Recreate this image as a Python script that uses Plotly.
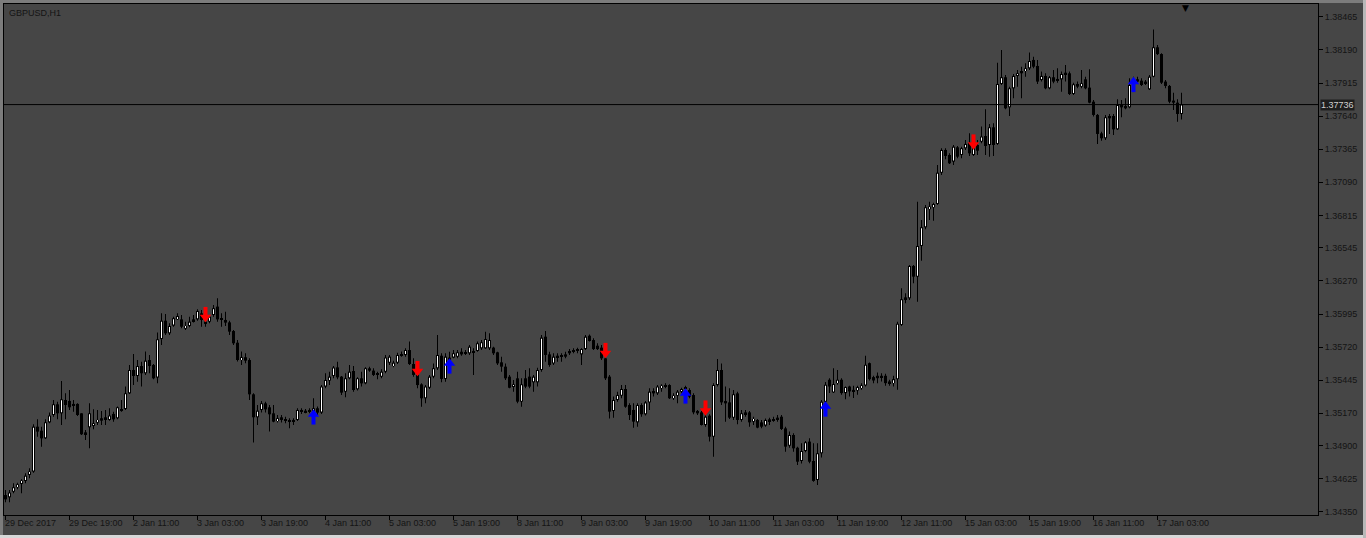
import plotly.graph_objects as go

symbol_label = "GBPUSD,H1"

opens = [
    1.34491, 1.34472, 1.34519, 1.34555, 1.34583, 1.34608, 1.34658, 1.34686, 1.35059, 1.35026,
    1.34962, 1.35095, 1.35156, 1.35245, 1.35170, 1.35281, 1.35273, 1.35231, 1.35248, 1.35170,
    1.34996, 1.35054, 1.35065, 1.35093, 1.35129, 1.35137, 1.35115, 1.35165, 1.35129, 1.35189,
    1.35206, 1.35336, 1.35530, 1.35480, 1.35563, 1.35503, 1.35613, 1.35572, 1.35467, 1.35788,
    1.35940, 1.35835, 1.35899, 1.35951, 1.35951, 1.35874, 1.35896, 1.35935, 1.35951, 1.36001,
    1.35913, 1.35932, 1.35987, 1.36057, 1.35960, 1.35946, 1.35926, 1.35854, 1.35757, 1.35613,
    1.35636, 1.35613, 1.35328, 1.35137, 1.35198, 1.35253, 1.35220, 1.35170, 1.35106, 1.35137,
    1.35123, 1.35115, 1.35106, 1.35115, 1.35198, 1.35178, 1.35198, 1.35184, 1.35212, 1.35176,
    1.35392, 1.35442, 1.35481, 1.35552, 1.35475, 1.35350, 1.35461, 1.35522, 1.35370, 1.35461,
    1.35419, 1.35525, 1.35525, 1.35503, 1.35475, 1.35516, 1.35591, 1.35563, 1.35591, 1.35650,
    1.35655, 1.35696, 1.35580, 1.35489, 1.35411, 1.35295, 1.35383, 1.35475, 1.35544, 1.35649,
    1.35456, 1.35613, 1.35633, 1.35641, 1.35682, 1.35677, 1.35669, 1.35688, 1.35688, 1.35710,
    1.35710, 1.35710, 1.35716, 1.35677, 1.35594, 1.35558, 1.35475, 1.35389, 1.35461, 1.35267,
    1.35461, 1.35475, 1.35428, 1.35428, 1.35530, 1.35807, 1.35660, 1.35585, 1.35633, 1.35649,
    1.35641, 1.35669, 1.35682, 1.35688, 1.35660, 1.35704, 1.35815, 1.35779, 1.35732, 1.35716,
    1.35627, 1.35475, 1.35190, 1.35281, 1.35317, 1.35372, 1.35239, 1.35198, 1.35095, 1.35239,
    1.35162, 1.35261, 1.35356, 1.35336, 1.35378, 1.35405, 1.35405, 1.35295, 1.35317, 1.35350,
    1.35378, 1.35364, 1.35322, 1.35190, 1.35178, 1.35073, 1.35151, 1.34976, 1.35405, 1.35530,
    1.35272, 1.35261, 1.35134, 1.35336, 1.35115, 1.35162, 1.35178, 1.35101, 1.35115, 1.35095,
    1.35068, 1.35120, 1.35106, 1.35120, 1.35142, 1.35045, 1.34901, 1.34990, 1.34884, 1.34774,
    1.34857, 1.34935, 1.34774, 1.34616, 1.34838, 1.35267, 1.35449, 1.35344, 1.35421, 1.35449,
    1.35338, 1.35393, 1.35352, 1.35360, 1.35379, 1.35402, 1.35587, 1.35471, 1.35462, 1.35482,
    1.35482, 1.35435, 1.35421, 1.35454, 1.35905, 1.36118, 1.36126, 1.36395, 1.36306, 1.36561,
    1.36716, 1.36866, 1.36882, 1.36910, 1.37170, 1.37359, 1.37317, 1.37262, 1.37381, 1.37317,
    1.37373, 1.37420, 1.37317, 1.37400, 1.37428, 1.37475, 1.37400, 1.37547, 1.37409, 1.37907,
    1.37963, 1.37713, 1.37871, 1.37974, 1.37996, 1.38015, 1.38037, 1.38107, 1.38057, 1.37940,
    1.37974, 1.37871, 1.37963, 1.37949, 1.37946, 1.38001, 1.37996, 1.37824, 1.37907, 1.37885,
    1.37946, 1.37877, 1.37760, 1.37650, 1.37497, 1.37456, 1.37622, 1.37641, 1.37530, 1.37713,
    1.37724, 1.37713, 1.37918, 1.37927, 1.37935, 1.37927, 1.37863, 1.37968, 1.38212, 1.38156,
    1.37927, 1.37891, 1.37769, 1.37752, 1.37658,
]

highs = [
    1.34533, 1.34533, 1.34589, 1.34594, 1.34622, 1.34672, 1.34713, 1.35079, 1.35120, 1.35059,
    1.35120, 1.35176, 1.35281, 1.35267, 1.35439, 1.35336, 1.35364, 1.35281, 1.35253, 1.35170,
    1.35032, 1.35253, 1.35203, 1.35198, 1.35189, 1.35198, 1.35212, 1.35184, 1.35226, 1.35281,
    1.35392, 1.35572, 1.35663, 1.35613, 1.35599, 1.35683, 1.35655, 1.35580, 1.35841, 1.36001,
    1.35996, 1.35918, 1.35973, 1.36001, 1.35987, 1.35932, 1.35973, 1.35987, 1.36034, 1.36029,
    1.35960, 1.35987, 1.36070, 1.36126, 1.36001, 1.36015, 1.35940, 1.35863, 1.35780, 1.35683,
    1.35669, 1.35627, 1.35336, 1.35239, 1.35273, 1.35267, 1.35239, 1.35239, 1.35156, 1.35156,
    1.35142, 1.35129, 1.35129, 1.35212, 1.35212, 1.35206, 1.35212, 1.35295, 1.35226, 1.35406,
    1.35503, 1.35516, 1.35563, 1.35599, 1.35480, 1.35503, 1.35572, 1.35563, 1.35469, 1.35516,
    1.35552, 1.35558, 1.35544, 1.35516, 1.35536, 1.35655, 1.35655, 1.35608, 1.35674, 1.35683,
    1.35710, 1.35766, 1.35627, 1.35494, 1.35419, 1.35405, 1.35489, 1.35585, 1.35821, 1.35669,
    1.35669, 1.35682, 1.35696, 1.35696, 1.35710, 1.35696, 1.35738, 1.35710, 1.35766, 1.35779,
    1.35849, 1.35835, 1.35724, 1.35682, 1.35641, 1.35585, 1.35489, 1.35447, 1.35516, 1.35461,
    1.35530, 1.35544, 1.35489, 1.35549, 1.35821, 1.35854, 1.35682, 1.35669, 1.35669, 1.35669,
    1.35682, 1.35704, 1.35710, 1.35716, 1.35710, 1.35821, 1.35826, 1.35793, 1.35752, 1.35738,
    1.35641, 1.35489, 1.35309, 1.35350, 1.35405, 1.35405, 1.35253, 1.35253, 1.35253, 1.35253,
    1.35273, 1.35378, 1.35378, 1.35405, 1.35411, 1.35419, 1.35411, 1.35336, 1.35364, 1.35383,
    1.35400, 1.35378, 1.35336, 1.35198, 1.35190, 1.35156, 1.35162, 1.35419, 1.35621, 1.35585,
    1.35392, 1.35378, 1.35364, 1.35350, 1.35198, 1.35198, 1.35190, 1.35142, 1.35123, 1.35115,
    1.35128, 1.35134, 1.35142, 1.35156, 1.35156, 1.35059, 1.35018, 1.35004, 1.34893, 1.34921,
    1.34940, 1.34962, 1.34921, 1.34921, 1.35281, 1.35430, 1.35462, 1.35545, 1.35531, 1.35462,
    1.35393, 1.35399, 1.35399, 1.35399, 1.35421, 1.35648, 1.35592, 1.35482, 1.35509, 1.35504,
    1.35498, 1.35449, 1.35482, 1.35932, 1.36209, 1.36168, 1.36403, 1.36403, 1.36929, 1.36777,
    1.36902, 1.36929, 1.36921, 1.37234, 1.37373, 1.37373, 1.37331, 1.37400, 1.37392, 1.37386,
    1.37442, 1.37497, 1.37386, 1.37442, 1.37553, 1.37697, 1.37575, 1.37580, 1.38084, 1.38190,
    1.37982, 1.37885, 1.37990, 1.38024, 1.38051, 1.38079, 1.38168, 1.38134, 1.38107, 1.38010,
    1.37996, 1.37974, 1.38024, 1.38037, 1.38010, 1.38065, 1.38010, 1.37918, 1.37927, 1.38024,
    1.37968, 1.38029, 1.37774, 1.37658, 1.37511, 1.37650, 1.37658, 1.37658, 1.37780, 1.37774,
    1.37788, 1.37954, 1.37968, 1.37968, 1.37954, 1.37940, 1.37982, 1.38361, 1.38231, 1.38162,
    1.37940, 1.37899, 1.37835, 1.37780, 1.37835,
]

lows = [
    1.34431, 1.34431, 1.34505, 1.34539, 1.34505, 1.34589, 1.34630, 1.34677, 1.34976, 1.34893,
    1.34957, 1.35087, 1.35142, 1.35120, 1.35073, 1.35120, 1.35198, 1.35184, 1.35148, 1.34990,
    1.34949, 1.34879, 1.35037, 1.35073, 1.35073, 1.35073, 1.35109, 1.35101, 1.35120, 1.35184,
    1.35198, 1.35331, 1.35406, 1.35433, 1.35392, 1.35489, 1.35503, 1.35453, 1.35419, 1.35738,
    1.35821, 1.35821, 1.35890, 1.35946, 1.35877, 1.35863, 1.35885, 1.35924, 1.35940, 1.35890,
    1.35890, 1.35918, 1.35973, 1.35932, 1.35890, 1.35896, 1.35821, 1.35738, 1.35600, 1.35572,
    1.35586, 1.35281, 1.34927, 1.35073, 1.35176, 1.35176, 1.35018, 1.35095, 1.35093, 1.35093,
    1.35087, 1.35046, 1.35073, 1.35106, 1.35165, 1.35170, 1.35170, 1.35170, 1.35156, 1.35165,
    1.35378, 1.35406, 1.35461, 1.35453, 1.35322, 1.35303, 1.35453, 1.35350, 1.35359, 1.35392,
    1.35411, 1.35516, 1.35480, 1.35453, 1.35461, 1.35503, 1.35572, 1.35552, 1.35580, 1.35641,
    1.35641, 1.35572, 1.35475, 1.35378, 1.35225, 1.35253, 1.35372, 1.35461, 1.35530, 1.35428,
    1.35433, 1.35599, 1.35627, 1.35627, 1.35649, 1.35655, 1.35655, 1.35489, 1.35682, 1.35696,
    1.35704, 1.35696, 1.35655, 1.35572, 1.35516, 1.35447, 1.35378, 1.35350, 1.35253, 1.35225,
    1.35378, 1.35378, 1.35350, 1.35392, 1.35516, 1.35599, 1.35558, 1.35572, 1.35599, 1.35599,
    1.35627, 1.35655, 1.35669, 1.35669, 1.35572, 1.35696, 1.35766, 1.35696, 1.35696, 1.35613,
    1.35447, 1.35128, 1.35134, 1.35267, 1.35295, 1.35217, 1.35115, 1.35051, 1.35059, 1.35142,
    1.35151, 1.35198, 1.35309, 1.35322, 1.35350, 1.35378, 1.35289, 1.35281, 1.35253, 1.35336,
    1.35372, 1.35295, 1.35162, 1.35156, 1.35068, 1.35059, 1.34935, 1.34810, 1.35392, 1.35239,
    1.35101, 1.35123, 1.35115, 1.35079, 1.35101, 1.35142, 1.35059, 1.35073, 1.35045, 1.35045,
    1.35059, 1.35073, 1.35101, 1.35101, 1.35031, 1.34851, 1.34884, 1.34851, 1.34741, 1.34754,
    1.34846, 1.34755, 1.34602, 1.34574, 1.34803, 1.35253, 1.35338, 1.35338, 1.35407, 1.35324,
    1.35288, 1.35310, 1.35297, 1.35324, 1.35365, 1.35393, 1.35443, 1.35421, 1.35421, 1.35435,
    1.35399, 1.35399, 1.35393, 1.35365, 1.35896, 1.36085, 1.36112, 1.36251, 1.36098, 1.36439,
    1.36699, 1.36777, 1.36771, 1.36902, 1.37151, 1.37281, 1.37242, 1.37234, 1.37289, 1.37289,
    1.37359, 1.37309, 1.37309, 1.37317, 1.37414, 1.37317, 1.37303, 1.37309, 1.37400, 1.37899,
    1.37697, 1.37641, 1.37788, 1.37885, 1.37788, 1.37968, 1.38024, 1.38037, 1.37907, 1.37927,
    1.37863, 1.37863, 1.37913, 1.37918, 1.37843, 1.37927, 1.37816, 1.37816, 1.37871, 1.37871,
    1.37863, 1.37747, 1.37636, 1.37409, 1.37436, 1.37442, 1.37492, 1.37483, 1.37525, 1.37630,
    1.37697, 1.37705, 1.37913, 1.37913, 1.37891, 1.37899, 1.37857, 1.37963, 1.38148, 1.37907,
    1.37871, 1.37747, 1.37691, 1.37594, 1.37613,
]

closes = [
    1.34455, 1.34511, 1.34555, 1.34580, 1.34611, 1.34652, 1.34686, 1.35059, 1.35018, 1.34962,
    1.35095, 1.35151, 1.35245, 1.35170, 1.35286, 1.35239, 1.35220, 1.35248, 1.35156, 1.34996,
    1.35012, 1.35170, 1.35087, 1.35115, 1.35109, 1.35115, 1.35151, 1.35120, 1.35220, 1.35206,
    1.35336, 1.35530, 1.35480, 1.35563, 1.35503, 1.35608, 1.35563, 1.35461, 1.35785, 1.35940,
    1.35835, 1.35896, 1.35960, 1.35979, 1.35890, 1.35896, 1.35932, 1.35951, 1.36020, 1.35946,
    1.35932, 1.35973, 1.36043, 1.35951, 1.35946, 1.35924, 1.35849, 1.35752, 1.35613, 1.35636,
    1.35608, 1.35328, 1.35137, 1.35192, 1.35253, 1.35203, 1.35162, 1.35101, 1.35129, 1.35115,
    1.35106, 1.35106, 1.35115, 1.35198, 1.35184, 1.35192, 1.35184, 1.35212, 1.35176, 1.35392,
    1.35447, 1.35475, 1.35550, 1.35469, 1.35342, 1.35461, 1.35516, 1.35364, 1.35461, 1.35419,
    1.35544, 1.35544, 1.35489, 1.35489, 1.35516, 1.35633, 1.35641, 1.35591, 1.35655, 1.35663,
    1.35696, 1.35580, 1.35489, 1.35405, 1.35295, 1.35392, 1.35475, 1.35544, 1.35655, 1.35456,
    1.35641, 1.35633, 1.35669, 1.35677, 1.35660, 1.35666, 1.35724, 1.35677, 1.35752, 1.35760,
    1.35787, 1.35779, 1.35669, 1.35585, 1.35558, 1.35461, 1.35383, 1.35411, 1.35267, 1.35411,
    1.35392, 1.35392, 1.35475, 1.35530, 1.35799, 1.35655, 1.35572, 1.35641, 1.35649, 1.35641,
    1.35660, 1.35688, 1.35696, 1.35704, 1.35704, 1.35807, 1.35771, 1.35704, 1.35704, 1.35627,
    1.35461, 1.35184, 1.35281, 1.35322, 1.35372, 1.35225, 1.35156, 1.35101, 1.35239, 1.35162,
    1.35261, 1.35350, 1.35336, 1.35392, 1.35400, 1.35392, 1.35295, 1.35317, 1.35350, 1.35372,
    1.35389, 1.35309, 1.35178, 1.35170, 1.35073, 1.35142, 1.34976, 1.35405, 1.35530, 1.35261,
    1.35253, 1.35134, 1.35328, 1.35115, 1.35170, 1.35178, 1.35095, 1.35123, 1.35051, 1.35059,
    1.35115, 1.35106, 1.35123, 1.35134, 1.35040, 1.34893, 1.34990, 1.34879, 1.34768, 1.34857,
    1.34929, 1.34768, 1.34608, 1.34838, 1.35267, 1.35407, 1.35393, 1.35413, 1.35449, 1.35338,
    1.35388, 1.35352, 1.35365, 1.35388, 1.35402, 1.35573, 1.35454, 1.35443, 1.35482, 1.35468,
    1.35421, 1.35421, 1.35454, 1.35914, 1.36118, 1.36134, 1.36395, 1.36306, 1.36561, 1.36716,
    1.36882, 1.36888, 1.36910, 1.37170, 1.37359, 1.37309, 1.37248, 1.37386, 1.37303, 1.37373,
    1.37409, 1.37331, 1.37373, 1.37353, 1.37470, 1.37392, 1.37547, 1.37400, 1.37907, 1.37963,
    1.37705, 1.37871, 1.37974, 1.37996, 1.38015, 1.38037, 1.38098, 1.38051, 1.37927, 1.37974,
    1.37871, 1.37963, 1.37927, 1.37932, 1.37990, 1.37990, 1.37824, 1.37904, 1.37885, 1.37913,
    1.37871, 1.37752, 1.37650, 1.37492, 1.37456, 1.37630, 1.37641, 1.37530, 1.37733, 1.37733,
    1.37705, 1.37899, 1.37935, 1.37946, 1.37899, 1.37913, 1.37968, 1.38212, 1.38156, 1.37918,
    1.37891, 1.37760, 1.37752, 1.37658, 1.37736,
]

bars = list(range(len(opens)))

time_tick_bars = list(range(0, 289, 16))
time_tick_labels = [
    "29 Dec 2017", "29 Dec 19:00", "2 Jan 11:00", "3 Jan 03:00", "3 Jan 19:00",
    "4 Jan 11:00", "5 Jan 03:00", "5 Jan 19:00", "8 Jan 11:00", "9 Jan 03:00",
    "9 Jan 19:00", "10 Jan 11:00", "11 Jan 03:00", "11 Jan 19:00", "12 Jan 11:00",
    "15 Jan 03:00", "15 Jan 19:00", "16 Jan 11:00", "17 Jan 03:00",
]

price_ticks = [1.38465, 1.38190, 1.37915, 1.37640, 1.37365, 1.37090, 1.36815, 1.36545,
               1.36270, 1.35995, 1.35720, 1.35445, 1.35170, 1.34900, 1.34625, 1.34350]
price_tick_labels = ["%.5f" % p for p in price_ticks]

sell_bars = [50, 103, 150, 175, 242]
sell_prices = [1.35987, 1.35538, 1.35688, 1.35210, 1.37421]
buy_bars = [77, 111, 170, 205, 282]
buy_prices = [1.35144, 1.35567, 1.35318, 1.35210, 1.37907]

last_price = 1.37736

BG = "#464646"
FONT = "Tahoma, Liberation Sans, Arial, sans-serif"
TXT = "#141414"

W, H = 1366, 538
ML, MR, MT, MB = 4, 48, 4, 23
PW, PH = W - ML - MR, H - MT - MB
Y_RANGE = [1.34325, 1.38572]
X_RANGE = [-0.375, 328.125]
dp = (Y_RANGE[1] - Y_RANGE[0]) / PH   # price per pixel

fig = go.Figure()

# wicks (high-low), drawn as thin bars so that bodies are layered above them
fig.add_trace(go.Bar(
    x=bars, y=[h - l for h, l in zip(highs, lows)], base=lows, width=0.25,
    marker=dict(color="#000000", line=dict(width=0)),
    hoverinfo="skip", showlegend=False,
))

# candle bodies: black 3px rectangle (outline / bear fill) ...
body_base = [min(o, c) for o, c in zip(opens, closes)]
body_h = [max(abs(c - o), dp) for o, c in zip(opens, closes)]
fig.add_trace(go.Bar(x=bars, y=body_h, base=body_base, width=0.75,
                     marker=dict(color="#000000", line=dict(width=0)),
                     hoverinfo="skip", showlegend=False))
# ... and white interior for bull candles
bx, bb, bh = [], [], []
for i, o, c in zip(bars, opens, closes):
    if c > o and (c - o) > 2.5 * dp:
        bx.append(i)
        bb.append(o + dp)
        bh.append(c - o - 2 * dp)
fig.add_trace(go.Bar(x=bx, y=bh, base=bb, width=0.25,
                     marker=dict(color="#ffffff", line=dict(width=0)),
                     hoverinfo="skip", showlegend=False))

# arrow markers: stem + head
def add_arrows(xs, ys, color, down):
    sgn = 1 if down else -1
    fig.add_trace(go.Scatter(
        x=xs, y=[p + sgn * 3.2 * dp for p in ys], mode="markers",
        marker=dict(symbol="line-ns", size=7, line=dict(width=4, color=color)),
        hoverinfo="skip", showlegend=False,
    ))
    fig.add_trace(go.Scatter(
        x=xs, y=[p - sgn * 2.3 * dp for p in ys], mode="markers",
        marker=dict(symbol="triangle-down" if down else "triangle-up", size=10,
                    color=color, line=dict(width=0)),
        hoverinfo="skip", showlegend=False,
    ))

add_arrows(sell_bars, sell_prices, "#ff0000", True)
add_arrows(buy_bars, buy_prices, "#0000ff", False)

annotations = []
for b, lab in zip(time_tick_bars, time_tick_labels):
    annotations.append(dict(
        x=b, y=0, xref="x", yref="paper", text=lab, showarrow=False,
        xanchor="left", yanchor="top", xshift=-3, yshift=-1,
        font=dict(family=FONT, size=9, color=TXT),
    ))
annotations.append(dict(
    x=0, y=1, xref="paper", yref="paper", text=symbol_label, showarrow=False,
    xanchor="left", yanchor="top", xshift=3, yshift=-2,
    font=dict(family=FONT, size=9, color=TXT),
))
annotations.append(dict(
    x=1, y=last_price, xref="paper", yref="y", text="%.5f" % last_price,
    showarrow=False, xanchor="left", yanchor="middle", xshift=2,
    bgcolor="#1e1e1e", borderpad=0,
    font=dict(family=FONT, size=9, color="#cfcfcf"),
))
annotations.append(dict(
    x=len(bars), y=1, xref="x", yref="paper", text="\u25bc", showarrow=False,
    xanchor="center", yanchor="top", yshift=3,
    font=dict(family="DejaVu Sans", size=9, color="#000000"),
))

px_x = lambda p: (p - ML) / PW
px_y = lambda p: (H - MB - p) / PH
shapes = [
    dict(type="line", xref="paper", yref="y", x0=0, x1=1, y0=last_price, y1=last_price,
         line=dict(color="#000000", width=1)),
    dict(type="rect", xref="paper", yref="paper", x0=px_x(0), x1=px_x(3), y0=px_y(H), y1=px_y(0),
         fillcolor="#7c7c7c", line=dict(width=0), layer="above"),
    dict(type="rect", xref="paper", yref="paper", x0=px_x(0), x1=px_x(W), y0=px_y(3), y1=px_y(0),
         fillcolor="#7c7c7c", line=dict(width=0), layer="above"),
    dict(type="rect", xref="paper", yref="paper", x0=px_x(0), x1=px_x(W), y0=px_y(H), y1=px_y(H - 3),
         fillcolor="#d8d8d8", line=dict(width=0), layer="above"),
    dict(type="rect", xref="paper", yref="paper", x0=px_x(W - 3), x1=px_x(W), y0=px_y(H), y1=px_y(0),
         fillcolor="#b8b8b8", line=dict(width=0), layer="above"),
]

fig.update_layout(
    width=W, height=H,
    margin=dict(l=ML, r=MR, t=MT, b=MB, pad=0),
    paper_bgcolor=BG, plot_bgcolor=BG,
    showlegend=False, hovermode=False,
    barmode="overlay",
    annotations=annotations, shapes=shapes,
    xaxis=dict(
        range=X_RANGE, tickvals=time_tick_bars, showticklabels=False,
        ticks="outside", ticklen=4, tickwidth=1, tickcolor="#000000",
        showgrid=False, zeroline=False, showline=True, linecolor="#000000",
        linewidth=1, mirror=True, fixedrange=True,
    ),
    yaxis=dict(
        side="right", range=Y_RANGE,
        tickvals=price_ticks, ticktext=price_tick_labels,
        ticks="outside", ticklen=4, tickwidth=1, tickcolor="#000000",
        tickfont=dict(family=FONT, size=9, color=TXT),
        showgrid=False, zeroline=False, showline=True, linecolor="#000000",
        linewidth=1, mirror=True, fixedrange=True,
    ),
)

fig.write_html("out.html")
